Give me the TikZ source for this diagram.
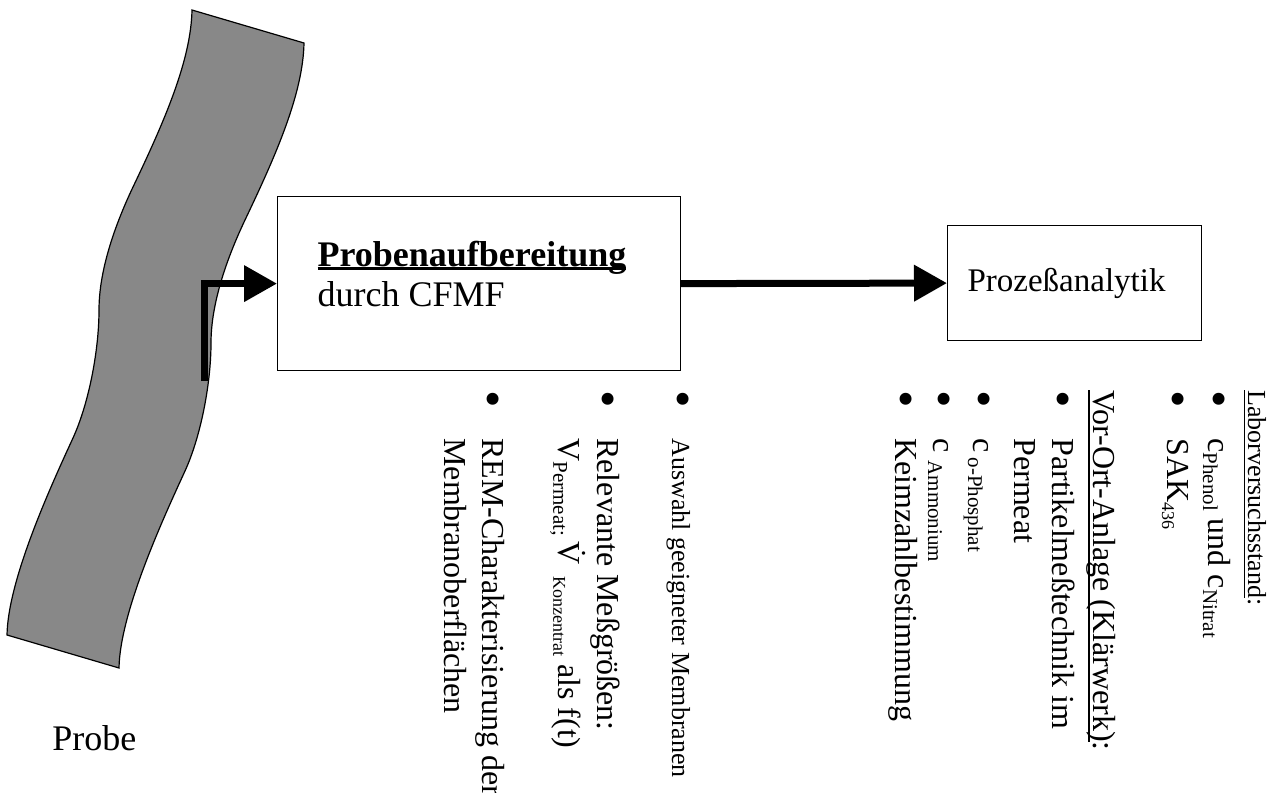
\documentclass[tikz,border=0pt]{standalone}
\usepackage{fontspec}
\setmainfont{Liberation Serif}
\usetikzlibrary{arrows.meta,positioning}

\definecolor{bandgray}{RGB}{136,136,136}

% font sizes (1px of the sketch = 0.5pt)
\newcommand\fsbox{\fontsize{18}{20}\selectfont}
\newcommand\fsbig{\fontsize{16}{19}\selectfont}
\newcommand\fssmall{\fontsize{13}{15.5}\selectfont}
\newcommand\lowsub[2][10.5]{\raisebox{-2.5pt}{\fontsize{#1}{12}\selectfont #2}}
\newcommand\bigdot{\raisebox{-3pt}{\fontsize{25}{25}\selectfont\textbullet}}
\newcommand\bul{\makebox[24pt][l]{\bigdot}}
\newcommand\boxdepth{\rule[-10pt]{0pt}{10pt}}
% word-style underline: depth, thickness, text
\newcommand\wordul[3]{\setbox0\hbox{#3}\rlap{\rule[-#1]{\wd0}{#2}}\box0}

\begin{document}
\begin{tikzpicture}[x=0.5pt,y=-0.5pt,
  box/.style={draw,line width=0.6pt,inner ysep=0pt,anchor=north west,align=flush left},
  flow/.style={line width=3.5pt,-{Triangle[length=16.5pt,width=17.5pt]}},
  vitem/.style={rotate=-90,anchor=base west,inner sep=0pt,font=\fsbig}]

  \useasboundingbox (0,0) rectangle (1276,793);

  % sample stream
  \draw[fill=bandgray,line width=0.6pt]
    (192,10) .. controls (191,60) and (165,120) .. (133,187)
    .. controls (115,225) and (99,270) .. (99,310)
    .. controls (99,350) and (89,403) .. (73,438)
    .. controls (50,488) and (8,580) .. (7,635)
    -- (119,668)
    .. controls (120,613) and (162,521) .. (185,471)
    .. controls (201,436) and (211,383) .. (211,343)
    .. controls (211,303) and (227,258) .. (245,220)
    .. controls (277,153) and (303,93) .. (304,43) -- cycle;
  \node[anchor=base west,inner sep=0pt,font=\fsbox] (probe) at (52,750) {Probe};

  % boxes
  \node[box,minimum height=87pt,text width=161.5pt,inner xsep=20pt,font=\fsbox] (prep) at (277,196)
    {\textbf{\wordul{1.8pt}{1.4pt}{Probenaufbereitung}}\\durch CFMF\boxdepth};
  \node[box,minimum height=57.5pt,text width=107pt,inner xsep=10pt,
        font=\fontsize{16.5}{19}\selectfont] (ana) at (947,225) {Prozeßanalytik};

  % connectors
  \coordinate (tap) at (204,381);
  \draw[flow] (tap) |- (prep.west);
  \draw[flow] (prep.east) -- (ana.west);

  % notes below the preparation box
  \node[vitem] (auswahl) at (672,390) {\bul{\fssmall Auswahl geeigneter Membranen}};
  \node[vitem] (relevant) at (597,390) {\begin{tabular}[t]{@{}p{24pt}@{}l@{}}
    \bigdot & Relevante Meßgrößen:\\
    & V\lowsub{Permeat;}\hspace{2.5pt}\.{V}\hspace{6pt}\lowsub[9]{Konzentrat} als f(t)\end{tabular}};
  \node[vitem] (rem) at (482,390) {\begin{tabular}[t]{@{}p{24pt}@{}l@{}}
    \bigdot & REM-Charakterisierung der\\
    & Membranoberflächen\end{tabular}};

  % notes below the analytics box
  \node[vitem,font=\fssmall] (labor) at (1248,390) {\wordul{2pt}{0.6pt}{Laborversuchsstand}:};
  \node[vitem] (phenol) at (1208,390) {\bul c\lowsub{Phenol} und c\lowsub{Nitrat}};
  \node[vitem] (sak) at (1167,390) {\bul SAK\lowsub[9]{436}};
  \node[vitem] (vorort) at (1093,390) {\wordul{2.5pt}{0.8pt}{Vor-Ort-Anlage (Klärwerk)}:};
  \node[vitem] (partikel) at (1052,390) {\begin{tabular}[t]{@{}p{24pt}@{}l@{}}
    \bigdot & Partikelmeßtechnik im\\
    & Permeat\end{tabular}};
  \node[vitem] (phosphat) at (973,390) {\bul c\hspace{2.5pt}\lowsub{o-Phosphat}};
  \node[vitem] (ammon) at (933,390) {\bul c\hspace{4pt}\lowsub{Ammonium}};
  \node[vitem] (keim) at (895,390) {\bul Keimzahlbestimmung};
\end{tikzpicture}
\end{document}
